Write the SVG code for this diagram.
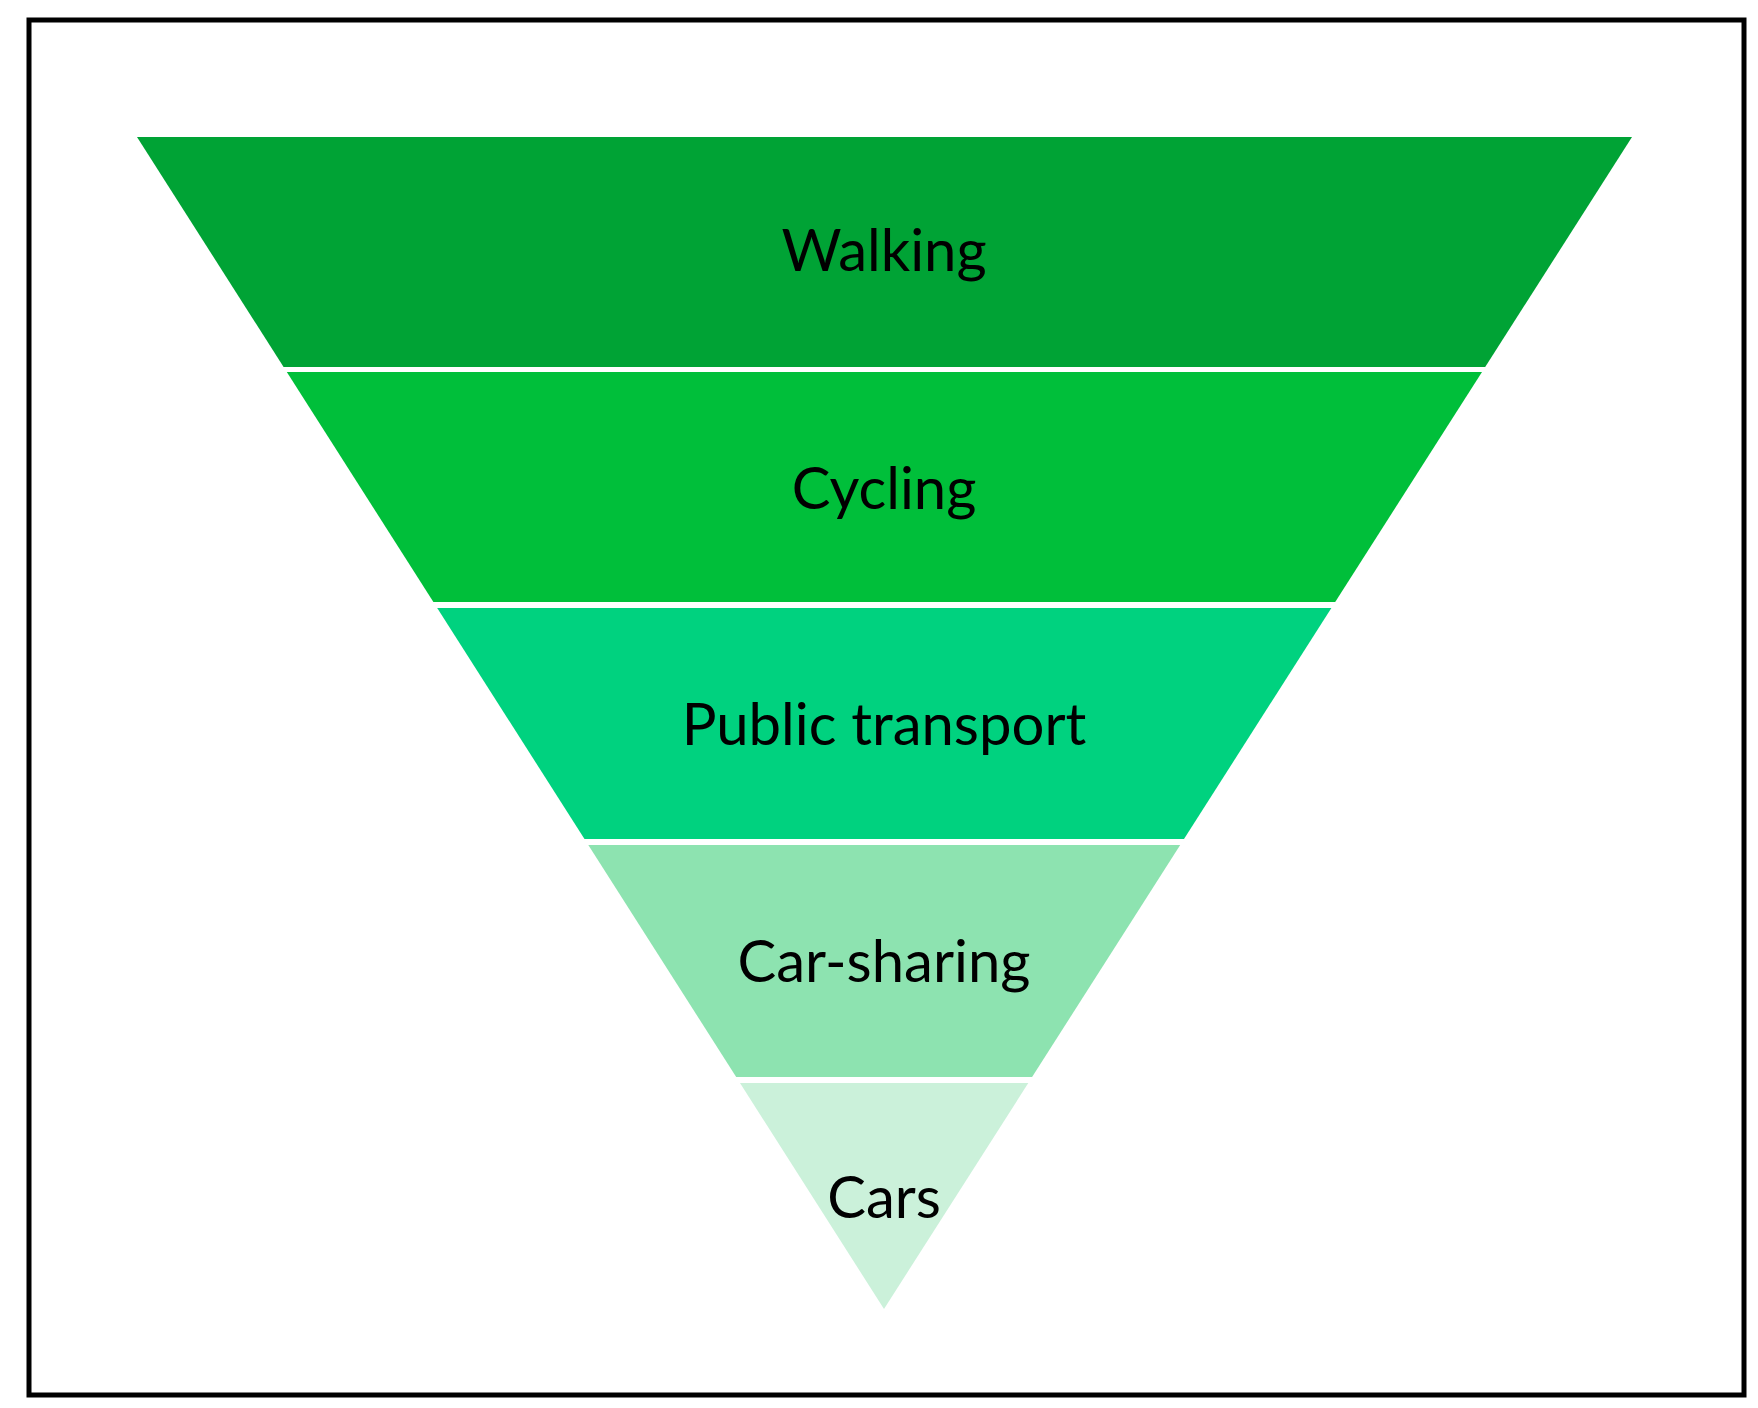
<svg xmlns="http://www.w3.org/2000/svg" width="1758" height="1408" viewBox="0 0 1758 1408">
<style>
text{font-family:Lato,"Open Sans","Liberation Sans",sans-serif;font-size:58px;fill:#000;text-anchor:middle}
</style>
<rect width="1758" height="1408" fill="#fff"/>
<rect x="29" y="20" width="1715" height="1375" fill="none" stroke="#000" stroke-width="5"/>
<g id="walking"><polygon points="137,137 1632,137 1485.2,367 283.6,367" fill="#00A335"/><text x="884" y="271">Walking</text></g>
<g id="cycling"><polygon points="286.8,372 1482,372 1335.2,602 433.4,602" fill="#00BF3A"/><text x="884" y="509">Cycling</text></g>
<g id="public-transport"><polygon points="437.2,608 1331.4,608 1184,839 584.5,839" fill="#00D27F"/><text x="884" y="745">Public transport</text></g>
<g id="car-sharing"><polygon points="588.3,845 1180.2,845 1032.1,1077 736.2,1077" fill="#8DE3B0"/><text x="884" y="982">Car-sharing</text></g>
<g id="cars"><polygon points="740,1083 1028.3,1083 884,1309" fill="#CBF1DA"/><text x="884" y="1218">Cars</text></g>
<g id="connectors"/>
</svg>
